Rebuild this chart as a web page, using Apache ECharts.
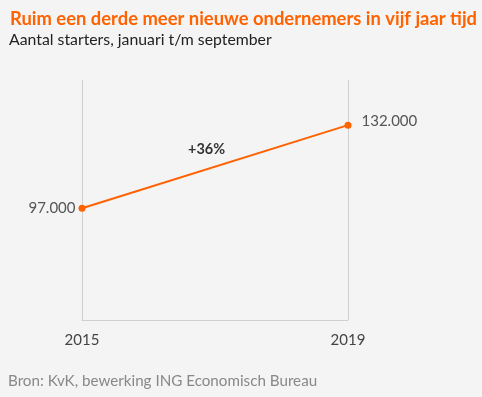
<!DOCTYPE html>
<html>
<head>
<meta charset="utf-8">
<script src="https://cdn.jsdelivr.net/npm/echarts@6/dist/echarts.min.js"></script>
<style>
  html, body { margin: 0; padding: 0; background: #f4f4f4; }
  #chart { width: 482px; height: 397px; }
</style>
</head>
<body>
<div id="chart"></div>
<script>
// data
const years = ['2015', '2019']
const starters = [97000, 132000]
const growthLabel = '+36%'

const fmt = v => v.toLocaleString('nl-NL')

const chart = echarts.init(document.getElementById('chart'))
chart.setOption({
  backgroundColor: '#f4f4f4',
  animation: false,
  textStyle: { fontFamily: 'Lato' },
  title: [
    {
      text: 'Ruim een derde meer nieuwe ondernemers in vijf jaar tijd',
      left: 5,
      top: 5,
      textStyle: { color: '#ff6200', fontSize: 18.4, fontWeight: 'bold', fontFamily: 'Lato' }
    },
    {
      text: 'Aantal starters, januari t/m september',
      left: 4,
      top: 27,
      textStyle: { color: '#222', fontSize: 15.8, fontWeight: 'normal', fontFamily: 'Lato' }
    },
    {
      text: 'Bron: KvK, bewerking ING Economisch Bureau',
      left: 3,
      top: 369,
      textStyle: { color: '#888', fontSize: 15.2, fontWeight: 'normal', fontFamily: 'Lato' }
    }
  ],
  grid: { left: 82, right: 134, top: 80, bottom: 77 },
  xAxis: {
    type: 'category',
    data: years,
    boundaryGap: false,
    axisLine: { lineStyle: { color: '#d0d0d0', width: 1 } },
    axisTick: { show: false },
    splitLine: { show: true, lineStyle: { color: '#d0d0d0', width: 1 } },
    axisLabel: { color: '#444', fontSize: 15, margin: 13 }
  },
  yAxis: {
    type: 'value',
    min: 50000,
    max: 151000,
    show: false,
    splitLine: { show: false }
  },
  graphic: [
    {
      type: 'text',
      left: 188,
      top: 142,
      style: { text: growthLabel, fill: '#333', font: 'bold 14.5px Lato' }
    }
  ],
  series: [
    {
      type: 'line',
      data: [
        { value: starters[0], label: { position: 'left', distance: 3 } },
        { value: starters[1], label: { position: 'right', offset: [4, -4] } }
      ],
      symbol: 'circle',
      symbolSize: 7,
      lineStyle: { color: '#ff6200', width: 2 },
      itemStyle: { color: '#ff6200' },
      label: {
        show: true,
        color: '#555',
        fontSize: 15,
        formatter: p => fmt(p.value),
        distance: 6
      },
      emphasis: { disabled: true }
    }
  ]
})
</script>
</body>
</html>
